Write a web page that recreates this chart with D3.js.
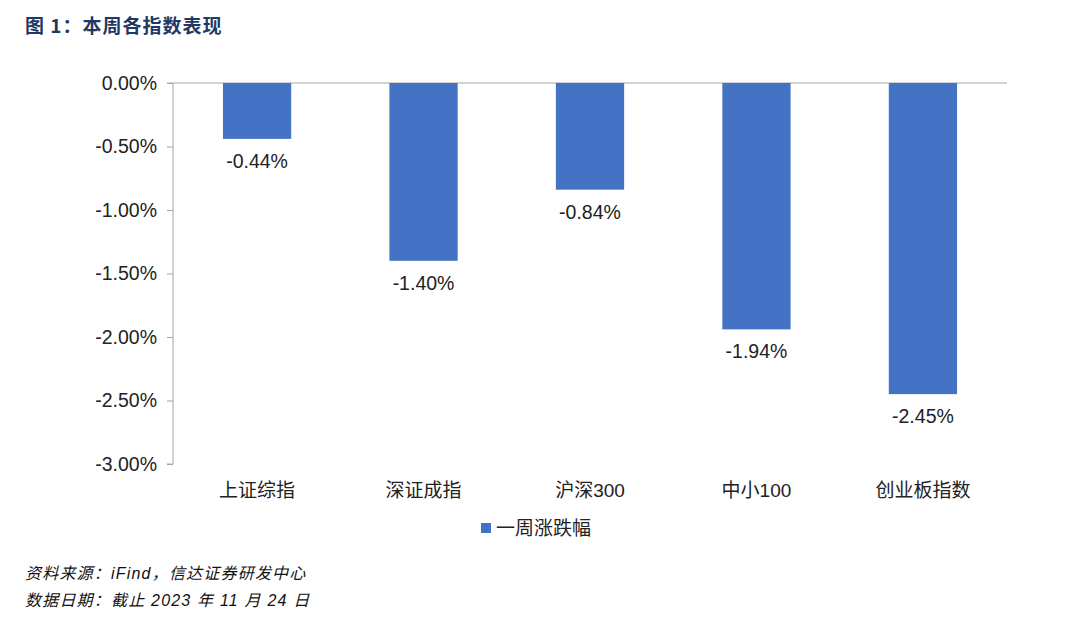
<!DOCTYPE html>
<html><head><meta charset="utf-8">
<script src="https://cdn.jsdelivr.net/npm/d3@7/dist/d3.min.js"></script>
<style>body{margin:0;background:#fff}svg{display:block}</style>
</head><body>
<script>
const categories = ["上证综指","深证成指","沪深300","中小100","创业板指数"];
const values = [-0.44,-1.40,-0.84,-1.94,-2.45];
const valueLabels = ["-0.44%","-1.40%","-0.84%","-1.94%","-2.45%"];
const yTicks = [0,-0.5,-1,-1.5,-2,-2.5,-3];
const seriesName = "一周涨跌幅";
const title = "图 1：本周各指数表现";
const source1 = "资料来源：iFind，信达证券研发中心";
const source2 = "数据日期：截止 2023 年 11 月 24 日";

(function(){
const W=1080,H=621;
const svg=d3.select("body").append("svg").attr("width",W).attr("height",H);
const latin="'Liberation Sans', Arial, sans-serif";
const cjk="'Liberation Sans', 'Noto Sans CJK SC', sans-serif";

const pL=173,pR=1007,pT=83,pB=464;
const x=d3.scaleBand().domain(categories).range([pL,pR]).paddingInner(0.59).paddingOuter(0.3);
const y=d3.scaleLinear().domain([-3,0]).range([pB,pT]);

svg.append("text").attr("x",25).attr("y",33).attr("fill","#1f3864")
  .attr("font-family","'Noto Sans CJK SC', serif").attr("font-weight","bold").attr("font-size",19)
  .attr("letter-spacing",1).text(title);

svg.append("line").attr("x1",pL).attr("x2",pR).attr("y1",y(0)).attr("y2",y(0))
  .attr("stroke","#a6a6a6").attr("stroke-width",1);

svg.selectAll("rect.bar").data(values).enter().append("rect")
  .attr("x",(d,i)=>x(categories[i])).attr("width",x.bandwidth())
  .attr("y",y(0)).attr("height",d=>y(d)-y(0)).attr("fill","#4472c4");

const yAxis=d3.axisLeft(y).tickValues(yTicks).tickSize(6).tickPadding(10)
  .tickFormat(d=>d3.format(".2f")(d)+"%");
const ga=svg.append("g").attr("transform",`translate(${pL},0)`).call(yAxis);
ga.select(".domain").attr("stroke","#a6a6a6").attr("d",`M-6,${pT}H0V${pB}H-6`);
ga.selectAll(".tick line").attr("stroke","#a6a6a6");
ga.selectAll(".tick text").attr("font-family",latin).attr("font-size",19.5).attr("fill","#222")
  .text(d=>(d===0?"0.00":d3.format(".2f")(d).replace("−","-"))+"%");

svg.selectAll("text.vl").data(values).enter().append("text")
  .attr("x",(d,i)=>x(categories[i])+x.bandwidth()/2).attr("y",d=>y(d)+29)
  .attr("text-anchor","middle").attr("font-family",latin).attr("font-size",19.5).attr("fill","#222")
  .text((d,i)=>valueLabels[i]);

svg.selectAll("text.cl").data(categories).enter().append("text")
  .attr("x",d=>x(d)+x.bandwidth()/2).attr("y",497)
  .attr("text-anchor","middle").attr("font-family",cjk).attr("font-size",19).attr("fill","#222")
  .text(d=>d);

svg.append("rect").attr("x",481).attr("y",523).attr("width",10).attr("height",10).attr("fill","#4472c4");
svg.append("text").attr("x",496).attr("y",535).attr("font-family",cjk).attr("font-size",19).attr("fill","#222").text(seriesName);

svg.append("text").attr("x",25).attr("y",579).attr("font-family",cjk).attr("font-size",16)
  .attr("letter-spacing",1.2).attr("font-style","italic").attr("fill","#111").text(source1);
svg.append("text").attr("x",25).attr("y",606).attr("font-family",cjk).attr("font-size",16)
  .attr("letter-spacing",1.2).attr("font-style","italic").attr("fill","#111").text(source2);
})();
</script>
</body></html>
